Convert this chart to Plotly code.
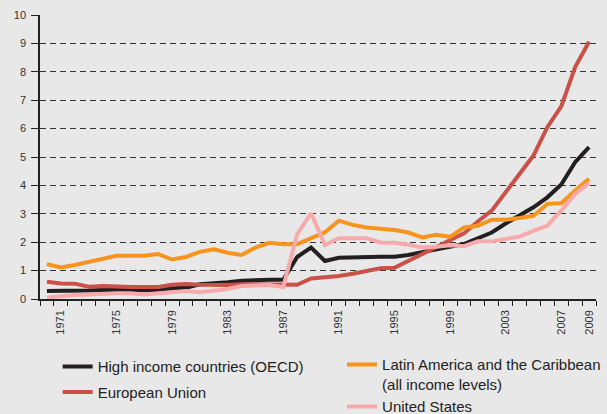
import plotly.graph_objects as go

years = list(range(1970, 2010))

high_income_oecd = [0.28, 0.28, 0.29, 0.30, 0.32, 0.33, 0.33, 0.31, 0.31, 0.38,
                    0.40, 0.52, 0.54, 0.59, 0.64, 0.67, 0.68, 0.68, 1.48, 1.81,
                    1.34, 1.45, 1.47, 1.50, 1.49, 1.49, 1.55, 1.65, 1.75, 1.84,
                    1.93, 2.14, 2.34, 2.66, 2.93, 3.23, 3.58, 4.03, 4.82, 5.35]

european_union = [0.61, 0.55, 0.54, 0.43, 0.46, 0.43, 0.42, 0.42, 0.42, 0.50,
                  0.53, 0.50, 0.48, 0.49, 0.52, 0.52, 0.52, 0.50, 0.50, 0.72,
                  0.75, 0.81, 0.89, 0.99, 1.08, 1.10, 1.34, 1.60, 1.84, 2.05,
                  2.31, 2.73, 3.11, 3.76, 4.40, 5.05, 6.05, 6.78, 8.17, 9.06]

latin_america = [1.23, 1.11, 1.20, 1.31, 1.44, 1.52, 1.52, 1.52, 1.58, 1.39,
                 1.48, 1.66, 1.75, 1.63, 1.55, 1.81, 1.98, 1.93, 1.93, 2.14,
                 2.35, 2.76, 2.61, 2.52, 2.49, 2.43, 2.34, 2.17, 2.26, 2.19,
                 2.52, 2.58, 2.79, 2.79, 2.85, 2.93, 3.35, 3.37, 3.82, 4.23]

united_states = [0.05, 0.10, 0.14, 0.16, 0.19, 0.20, 0.20, 0.16, 0.20, 0.24,
                 0.28, 0.24, 0.28, 0.35, 0.46, 0.49, 0.49, 0.42, 2.28, 3.02,
                 1.90, 2.14, 2.14, 2.14, 1.99, 1.98, 1.91, 1.81, 1.84, 1.89,
                 1.86, 2.03, 2.03, 2.11, 2.20, 2.40, 2.58, 3.11, 3.70, 4.08]

tick_years = [1971, 1975, 1979, 1983, 1987, 1991, 1995, 1999, 2003, 2007, 2009]
tick_labels = [str(y) for y in tick_years]

FONT = "Liberation Sans, Arial, sans-serif"
BG = "#e8e8e8"

fig = go.Figure()
series = [
    ("High income countries (OECD)", high_income_oecd, "#231f20", "legend"),
    ("European Union", european_union, "#cb5148", "legend"),
    ("Latin America and the Caribbean<br>(all income levels)", latin_america, "#f7941d", "legend2"),
    ("United States", united_states, "#f7aaac", "legend2"),
]
for k, (name, vals, color, leg) in enumerate(series):
    fig.add_trace(go.Scatter(x=years, y=vals, name=name, mode="lines",
                             line=dict(color=color, width=4),
                             legend=leg, legendgroup=f"g{k}"))

fig.update_layout(
    width=607, height=414,
    margin=dict(l=40, r=11, t=15, b=115, autoexpand=False),
    paper_bgcolor=BG, plot_bgcolor=BG,
    font=dict(family=FONT, color="#222"),
    legend=dict(xref="container", yref="container", x=0.095, y=0.154,
                xanchor="left", yanchor="top", bgcolor="rgba(0,0,0,0)",
                font=dict(size=15, color="#222"), tracegroupgap=3,
                itemwidth=30),
    legend2=dict(xref="container", yref="container", x=0.5635, y=0.159,
                 xanchor="left", yanchor="top", bgcolor="rgba(0,0,0,0)",
                 valign="top", itemwidth=30,
                 font=dict(size=15, color="#222"), tracegroupgap=0),
)

fig.update_xaxes(
    range=[1969.5, 2009.5],
    tickmode="array", tickvals=tick_years, ticktext=tick_labels,
    tickangle=-90, ticks="", ticklabelstandoff=5,
    tickfont=dict(size=11, color="#333"),
    showgrid=False, zeroline=False,
    showline=True, linecolor="#222", linewidth=1.5,
    minor=dict(ticks="outside", ticklen=5, tickcolor="#222", tickwidth=1.2,
               tick0=1969.5, dtick=1, showgrid=False),
)
fig.update_yaxes(
    range=[0, 10], dtick=1, tick0=0,
    ticks="outside", ticklen=7, tickcolor="#222", tickwidth=1.2,
    tickfont=dict(size=11, color="#333"), ticklabelstandoff=3,
    showgrid=True, gridcolor="#333", gridwidth=1, griddash="6px,4px",
    zeroline=False,
    showline=True, linecolor="#222", linewidth=1.5,
)

fig.write_html(
    "out.html",
    config={"displayModeBar": False},
    post_script="document.body.style.margin='0';"
                "document.body.style.background='#e8e8e8';",
)
